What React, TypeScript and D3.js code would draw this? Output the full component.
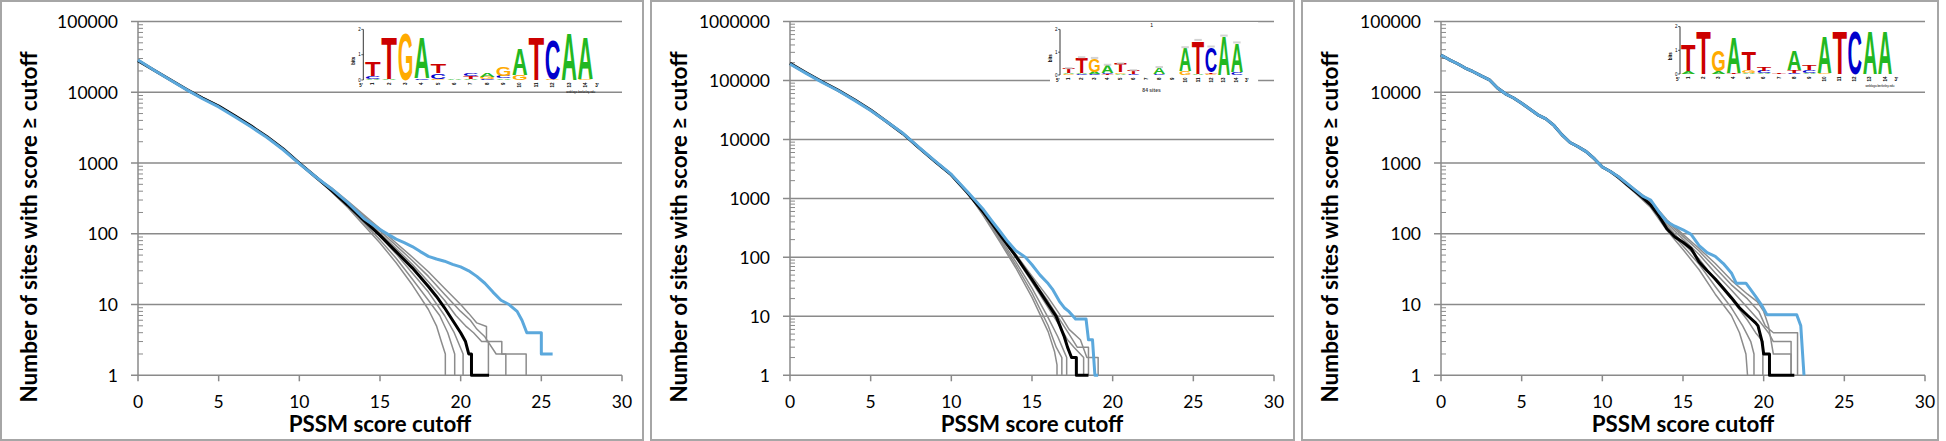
import React from "react";
import * as d3 from "d3";

type Pt = [number, number];
type Stack = [string, number][];

const scoreTicks = [0, 5, 10, 15, 20, 25, 30];
const countTicksA = [1, 10, 100, 1000, 10000, 100000];
const countTicksB = [1, 10, 100, 1000, 10000, 100000, 1000000];

// ---- panel 1 ----
const trunk1: Pt[] = [[0, 28000], [1, 20500], [2, 15000], [3, 11000], [4, 8300], [5, 6400], [6, 4650], [7, 3350], [8, 2350], [9, 1580], [10, 1000], [11, 640]];
const black1Tail: Pt[] = [[12, 410], [13, 255], [14, 155], [15, 95], [16, 56], [17, 33], [18, 18], [18.5, 13], [19, 9], [19.5, 6], [20, 4], [20.3, 3], [20.5, 2], [20.67, 2], [20.67, 1], [21.76, 1]];
const blue1: Pt[] = [[0, 28500], [1, 20500], [2, 14900], [3, 10900], [4, 8100], [5, 6200], [6, 4500], [7, 3250], [8, 2290], [9, 1540], [10, 980], [11, 640], [12, 430], [13, 275], [14, 165], [15, 115], [15.5, 98], [16, 84], [16.5, 75], [17, 66], [17.5, 56], [18, 48], [18.5, 44], [19, 41], [19.5, 37], [20, 34], [20.5, 30], [21, 25], [21.5, 20], [22, 15], [22.5, 11.5], [23, 10], [23.5, 8], [23.8, 6], [24.1, 4], [25, 4], [25, 2], [25.7, 2]];
const grays1: Pt[][] = [
  [[12, 390], [13, 235], [14, 132], [15, 74], [16, 39], [17, 19], [18, 8.5], [18.5, 5], [18.8, 3], [19.05, 2], [19.05, 1]],
  [[12, 400], [13, 245], [14, 142], [15, 82], [16, 45], [17, 23], [18, 11.5], [18.7, 7], [19.2, 4], [19.63, 2], [19.63, 1]],
  [[12, 415], [13, 260], [14, 158], [15, 92], [16, 52], [17, 28], [18, 15], [19, 7], [19.6, 4], [20.15, 2], [20.15, 1]],
  [[12, 425], [13, 270], [14, 168], [15, 102], [16, 62], [17, 37], [18, 21], [19, 11.5], [19.7, 7], [20.3, 5], [20.8, 4], [21.3, 3], [21.72, 3], [21.72, 1]],
  [[12, 435], [13, 280], [14, 176], [15, 110], [16, 68], [17, 42], [18, 25], [19, 14], [20, 8], [20.6, 6], [21, 4.5], [21.5, 3.5], [22.2, 2], [22.8, 2], [22.8, 1]],
  [[12, 445], [13, 290], [14, 185], [15, 118], [16, 74], [17, 47], [18, 29], [19, 17], [20, 10], [20.5, 7.5], [21, 5.5], [21.6, 4.9], [21.6, 3], [22.55, 3], [22.55, 2], [24.06, 2], [24.06, 1]],
];

// ---- panel 2 ----
const trunk2: Pt[] = [[0, 195000], [1, 135000], [2, 95000], [3, 68000], [4, 47000], [5, 31500], [6, 20000], [7, 12500], [8, 7200], [9, 4200], [10, 2500], [11, 1250]];
const black2Tail: Pt[] = [[12, 580], [12.5, 380], [13, 245], [13.5, 160], [14, 105], [14.5, 66], [15, 42], [15.5, 26], [16, 16], [16.5, 10], [17, 4.5], [17.2, 3], [17.45, 2], [17.75, 2], [17.75, 1], [18.5, 1]];
const blue2: Pt[] = [[0, 190000], [1, 132000], [2, 93000], [3, 67000], [4, 46000], [5, 31000], [6, 20000], [7, 12700], [8, 7300], [9, 4300], [10, 2550], [11, 1300], [12, 640], [12.5, 420], [13, 280], [13.5, 185], [14, 130], [14.6, 100], [15, 75], [15.5, 50], [16, 36], [16.3, 28], [16.7, 18], [17, 14], [17.3, 12], [17.7, 9], [18.35, 9], [18.5, 4], [18.75, 4], [18.9, 1], [19.1, 1]];
const grays2: Pt[][] = [
  [[12, 500], [13, 185], [14, 66], [15, 21], [16, 5.5], [16.4, 2.5], [16.55, 1.5], [16.55, 1]],
  [[12, 520], [13, 200], [14, 74], [15, 25], [16, 7], [16.5, 3], [16.85, 2], [16.85, 1]],
  [[12, 545], [13, 215], [14, 84], [15, 30], [16, 9.5], [16.6, 4.5], [17, 2.5], [17.15, 2], [17.15, 1]],
  [[12, 600], [13, 250], [14, 100], [15, 38], [16, 14], [16.7, 7], [17.2, 4], [17.6, 3], [18.2, 2], [18.2, 1]],
  [[12, 615], [13, 260], [14, 106], [15, 43], [16, 18], [16.7, 9], [17.3, 5], [17.8, 3], [18.5, 3], [18.5, 1]],
  [[12, 625], [13, 268], [14, 112], [15, 48], [16, 21], [16.8, 10], [17.3, 6], [18, 4], [18.4, 2], [19.1, 2], [19.1, 1]],
];

// ---- panel 3 ----
const trunk3: Pt[] = [[0, 33500], [0.5, 29000], [1, 25500], [1.5, 22000], [2, 19500], [2.5, 17000], [3, 15000], [3.5, 11500], [4, 9500], [4.5, 8300], [5, 7000], [5.5, 5800], [6, 4800], [6.5, 4200], [7, 3400], [7.5, 2500], [8, 1950], [8.5, 1700], [9, 1450], [9.5, 1150], [10, 880], [10.5, 760], [11, 640], [11.5, 520], [12, 420], [12.5, 340]];
const black3Tail: Pt[] = [[11, 630], [11.5, 505], [12, 405], [12.5, 325], [13, 255], [13.5, 180], [14, 118], [14.5, 90], [15, 76], [15.5, 62], [16, 40], [16.5, 30], [17, 23], [17.5, 17], [18, 12.5], [18.5, 9], [19, 7], [19.5, 5.5], [19.65, 5], [19.9, 3], [20, 2], [20.36, 2], [20.36, 1], [21.9, 1]];
const blue3Tail: Pt[] = [[13, 300], [13.5, 205], [14, 148], [14.5, 128], [15, 114], [15.5, 98], [16, 68], [16.5, 54], [17, 48], [17.5, 38], [18, 28], [18.3, 20], [18.9, 20], [19.5, 13], [19.85, 10], [20.2, 7.2], [22.05, 7.2], [22.3, 5], [22.5, 1]];
const blue3: Pt[] = [...trunk3, ...blue3Tail];
const grays3: Pt[][] = [
  [[11, 600], [12, 385], [13, 235], [14, 112], [15, 60], [16, 31], [17, 14], [18, 7], [18.5, 4], [18.9, 2], [19, 1]],
  [[11, 610], [12, 392], [13, 245], [14, 122], [15, 67], [16, 37], [17, 18], [18, 9], [18.7, 5], [19.2, 3], [19.4, 2], [19.4, 1]],
  [[11, 620], [12, 400], [13, 260], [14, 132], [15, 74], [16, 44], [17, 22], [18, 12], [19, 6], [19.5, 4], [19.95, 3], [19.95, 1]],
  [[11, 640], [12, 412], [13, 270], [14, 142], [15, 84], [16, 51], [17, 28], [18, 16], [19, 9], [19.7, 6], [20.3, 4], [20.6, 3], [21.7, 3], [21.7, 1]],
  [[11, 650], [12, 422], [13, 280], [14, 150], [15, 92], [16, 57], [17, 33], [18, 19], [19, 12], [19.7, 8], [20.1, 5], [20.6, 4], [22.1, 4], [22.1, 1]],
  [[11, 660], [12, 432], [13, 290], [14, 158], [15, 98], [16, 62], [17, 38], [18, 22], [19, 14], [19.6, 11], [20, 8], [20.3, 5], [20.6, 2], [21.7, 2], [21.7, 1]],
];

// ---- sequence logos (bits per letter, bottom to top) ----
const logoCols1: Stack[] = [
  [["A", 0.04], ["C", 0.12], ["T", 0.56]],
  [["A", 0.03], ["T", 1.68]],
  [["G", 1.9]],
  [["C", 0.06], ["A", 1.62]],
  [["G", 0.04], ["C", 0.22], ["T", 0.34]],
  [["A", 0.02]],
  [["A", 0.03], ["T", 0.12], ["C", 0.12]],
  [["C", 0.04], ["G", 0.08], ["A", 0.13]],
  [["A", 0.06], ["C", 0.1], ["G", 0.36]],
  [["G", 0.18], ["A", 1.07]],
  [["T", 1.71]],
  [["G", 0.03], ["C", 1.57]],
  [["A", 1.9]],
  [["G", 0.03], ["A", 1.68]],
];
const logoCols2: Stack[] = [
  [["G", 0.04], ["A", 0.05], ["T", 0.2]],
  [["C", 0.05], ["A", 0.04], ["T", 0.68]],
  [["C", 0.04], ["A", 0.1], ["G", 0.6]],
  [["T", 0.05], ["C", 0.03], ["A", 0.36]],
  [["A", 0.05], ["G", 0.07], ["T", 0.38]],
  [["C", 0.06], ["T", 0.14]],
  [["A", 0.02]],
  [["C", 0.04], ["A", 0.3]],
  [["A", 0.02]],
  [["G", 0.16], ["A", 1.05]],
  [["A", 0.05], ["T", 1.48]],
  [["G", 0.04], ["T", 0.08], ["C", 1.12]],
  [["A", 1.72]],
  [["C", 0.12], ["A", 1.3]],
];
const logoCols3: Stack[] = [
  [["A", 0.12], ["T", 1.11]],
  [["T", 1.86]],
  [["A", 0.12], ["G", 0.9]],
  [["T", 0.05], ["A", 1.53]],
  [["A", 0.05], ["G", 0.1], ["T", 0.8]],
  [["A", 0.06], ["C", 0.08], ["T", 0.16]],
  [["T", 0.04]],
  [["C", 0.04], ["T", 0.12], ["A", 0.86]],
  [["A", 0.05], ["C", 0.12], ["T", 0.22]],
  [["G", 0.05], ["A", 1.55]],
  [["T", 1.86]],
  [["C", 1.86]],
  [["A", 1.86]],
  [["A", 1.86]],
];

const LETTER_COLOR: Record<string, string> = { A: "#22b822", C: "#0000cc", G: "#ffaa00", T: "#cc0000" };
const GRID = "#8a8a8a";
const BLUE = "#5ba8dc";
const FONT = "Lato, 'Open Sans', sans-serif";

const PLOT_TOP = 21.5;
const PLOT_BOTTOM = 375.3;
const PLOT_W = 484;

type LogoCfg = { axisX: number; x0: number; colW: number; y0: number; ppb: number; style: "berkeley" | "sites" };

function Logo({ cfg, cols }: { cfg: LogoCfg; cols: Stack[] }) {
  const pos = d3.range(1, cols.length + 1);
  const x = d3.scaleBand<number>().domain(pos).range([cfg.x0, cfg.x0 + cfg.colW * cols.length]).paddingInner(0.04);
  const y = d3.scaleLinear().domain([0, 2]).range([cfg.y0, cfg.y0 - 2 * cfg.ppb]);
  const lastX = cfg.x0 + cfg.colW * cols.length;
  return (
    <g>
      {cfg.style === "sites" && (
        <rect x={cfg.axisX - 10} y={22} width={lastX - cfg.axisX + 25} height={76} fill="#fff" />
      )}
      {cols.map((stack, i) => {
        let acc = 0;
        const xl = x(i + 1)!;
        const items = stack.map(([ch, h], j) => {
          const yb = y(acc);
          acc += h;
          const hp = yb - y(acc);
          return (
            <text key={j} transform={`translate(0,${yb}) scale(1,${hp / 7.16})`} x={xl} y={0}
              fontSize={10} fontFamily="'Liberation Sans', Arial, sans-serif" fontWeight="bold"
              fill={LETTER_COLOR[ch]} textLength={x.bandwidth()} lengthAdjust="spacingAndGlyphs">{ch}</text>
          );
        });
        return (
          <g key={i}>
            {items}
            {cfg.style === "sites" && acc > 0.05 && (
              <rect x={xl + x.bandwidth() * 0.2} y={y(acc) - 1.2} width={x.bandwidth() * 0.6} height={2} fill="#c8c8c8" opacity={0.8} />
            )}
          </g>
        );
      })}
      <line x1={cfg.axisX} x2={cfg.axisX} y1={y(0)} y2={y(2)} stroke="#000" strokeWidth={0.8} />
      {[0, 1, 2].map((b) => (
        <g key={b}>
          <line x1={cfg.axisX - 2} x2={cfg.axisX} y1={y(b)} y2={y(b)} stroke="#000" strokeWidth={0.6} />
          <text x={cfg.axisX - 2.5} y={y(b) + 1.5} fontSize={4.5} textAnchor="end" fontFamily="Arial, sans-serif">{b}</text>
        </g>
      ))}
      <text transform={`translate(${cfg.axisX - 8.5},${y(1) + 6}) rotate(-90)`} fontSize={4.5} textAnchor="middle" fontWeight="bold" fontFamily="Arial, sans-serif">bits</text>
      {pos.map((p) => (
        <text key={p} transform={`translate(${x(p)! + x.bandwidth() / 2 + 1.5},${cfg.y0 + 2.5}) rotate(-90)`} fontSize={4.5} textAnchor="end" fontWeight="bold" fontFamily="Arial, sans-serif">{p}</text>
      ))}
      <text x={cfg.axisX - 4} y={cfg.y0 + 7} fontSize={4.5} fontWeight="bold" fontFamily="Arial, sans-serif">5'</text>
      <text x={lastX + 2} y={cfg.y0 + 7} fontSize={4.5} fontWeight="bold" fontFamily="Arial, sans-serif">3'</text>
      {cfg.style === "berkeley" && (
        <text x={lastX + 2} y={cfg.y0 + 13} fontSize={3} textAnchor="end" fontFamily="Arial, sans-serif">weblogo.berkeley.edu</text>
      )}
      {cfg.style === "sites" && (
        <>
          <text x={(cfg.axisX + lastX) / 2} y={cfg.y0 + 17} fontSize={5} textAnchor="middle" fontWeight="bold" fill="#444" fontFamily="Arial, sans-serif">84 sites</text>
          <text x={(cfg.axisX + lastX) / 2} y={27} fontSize={5} textAnchor="middle" fontFamily="Arial, sans-serif">1</text>
        </>
      )}
    </g>
  );
}

type PanelCfg = {
  left: number; right: number; axisX: number; yMax: number; ticks: number[];
  trunk: Pt[]; blackTail: Pt[]; blue: Pt[]; grays: Pt[][]; branch: number;
  logo: LogoCfg; cols: Stack[];
};

const PANELS: PanelCfg[] = [
  { left: 1, right: 643, axisX: 138, yMax: 1e5, ticks: countTicksA, trunk: trunk1, blackTail: black1Tail, blue: blue1, grays: grays1, branch: 12,
    logo: { axisX: 363.3, x0: 365, colW: 16.3, y0: 80, ppb: 25.3, style: "berkeley" }, cols: logoCols1 },
  { left: 651, right: 1294, axisX: 790, yMax: 1e6, ticks: countTicksB, trunk: trunk2, blackTail: black2Tail, blue: blue2, grays: grays2, branch: 12,
    logo: { axisX: 1060, x0: 1062.5, colW: 12.9, y0: 75, ppb: 22.8, style: "sites" }, cols: logoCols2 },
  { left: 1302, right: 1938, axisX: 1441, yMax: 1e5, ticks: countTicksA, trunk: trunk3, blackTail: black3Tail, blue: blue3, grays: grays3, branch: 11,
    logo: { axisX: 1680, x0: 1681, colW: 15.1, y0: 74, ppb: 23.7, style: "berkeley" }, cols: logoCols3 },
];

function Panel({ p }: { p: PanelCfg }) {
  const x = d3.scaleLinear().domain([0, 30]).range([p.axisX, p.axisX + PLOT_W]);
  const y = d3.scaleLog().domain([1, p.yMax]).range([PLOT_BOTTOM, PLOT_TOP]);
  const line = d3.line<Pt>().x((d) => x(d[0])).y((d) => y(d[1]));
  const base = p.trunk.filter((d) => d[0] < p.branch);
  const black = [...base, ...p.blackTail];
  const minor: number[] = [];
  p.ticks.slice(0, -1).forEach((t) => d3.range(2, 10).forEach((k) => minor.push(t * k)));
  const fmt = d3.format("d");
  return (
    <g>
      <rect x={p.left} y={1} width={p.right - p.left} height={439} fill="#fff" stroke="#a6a6a6" strokeWidth={2} />
      {p.ticks.map((t) => (
        <g key={t}>
          <line x1={p.axisX - 7} x2={x(30)} y1={y(t)} y2={y(t)} stroke={GRID} strokeWidth={1.5} />
          <text x={p.axisX - 20} y={y(t) + 6.5} textAnchor="end" fontSize={17.5} fontFamily={FONT}>{fmt(t)}</text>
        </g>
      ))}
      {minor.map((m) => (
        <line key={m} x1={p.axisX} x2={p.axisX + 5} y1={y(m)} y2={y(m)} stroke={GRID} strokeWidth={1} />
      ))}
      <line x1={p.axisX} x2={p.axisX} y1={PLOT_BOTTOM} y2={PLOT_TOP} stroke={GRID} strokeWidth={1.5} />
      {scoreTicks.map((t) => (
        <g key={t}>
          <line x1={x(t)} x2={x(t)} y1={PLOT_BOTTOM} y2={PLOT_BOTTOM + 6} stroke={GRID} strokeWidth={1.5} />
          <text x={x(t)} y={407.5} textAnchor="middle" fontSize={17.5} fontFamily={FONT}>{t}</text>
        </g>
      ))}
      <text x={(x(0) + x(30)) / 2} y={432} textAnchor="middle" fontSize={22.3} fontWeight="bold" fontFamily={FONT}>PSSM score cutoff</text>
      <text transform={`translate(${p.left + 36},227) rotate(-90)`} textAnchor="middle" fontSize={22.5} fontWeight="bold" fontFamily={FONT}>
        Number of sites with score ≥ cutoff
      </text>
      <Logo cfg={p.logo} cols={p.cols} />
      {p.grays.map((g, i) => (
        <path key={i} d={line([...base, ...g]) ?? ""} fill="none" stroke="#8c8c8c" strokeWidth={1.5} strokeLinejoin="round" />
      ))}
      <path d={line(black) ?? ""} fill="none" stroke="#000" strokeWidth={3} strokeLinejoin="round" />
      <path d={line(p.blue) ?? ""} fill="none" stroke={BLUE} strokeWidth={3} strokeLinejoin="round" />
    </g>
  );
}

export default function App() {
  return (
    <svg width={1946} height={441} style={{ position: "absolute", left: 0, top: 0, background: "#fff" }}>
      {PANELS.map((p, i) => (
        <Panel key={i} p={p} />
      ))}
    </svg>
  );
}
